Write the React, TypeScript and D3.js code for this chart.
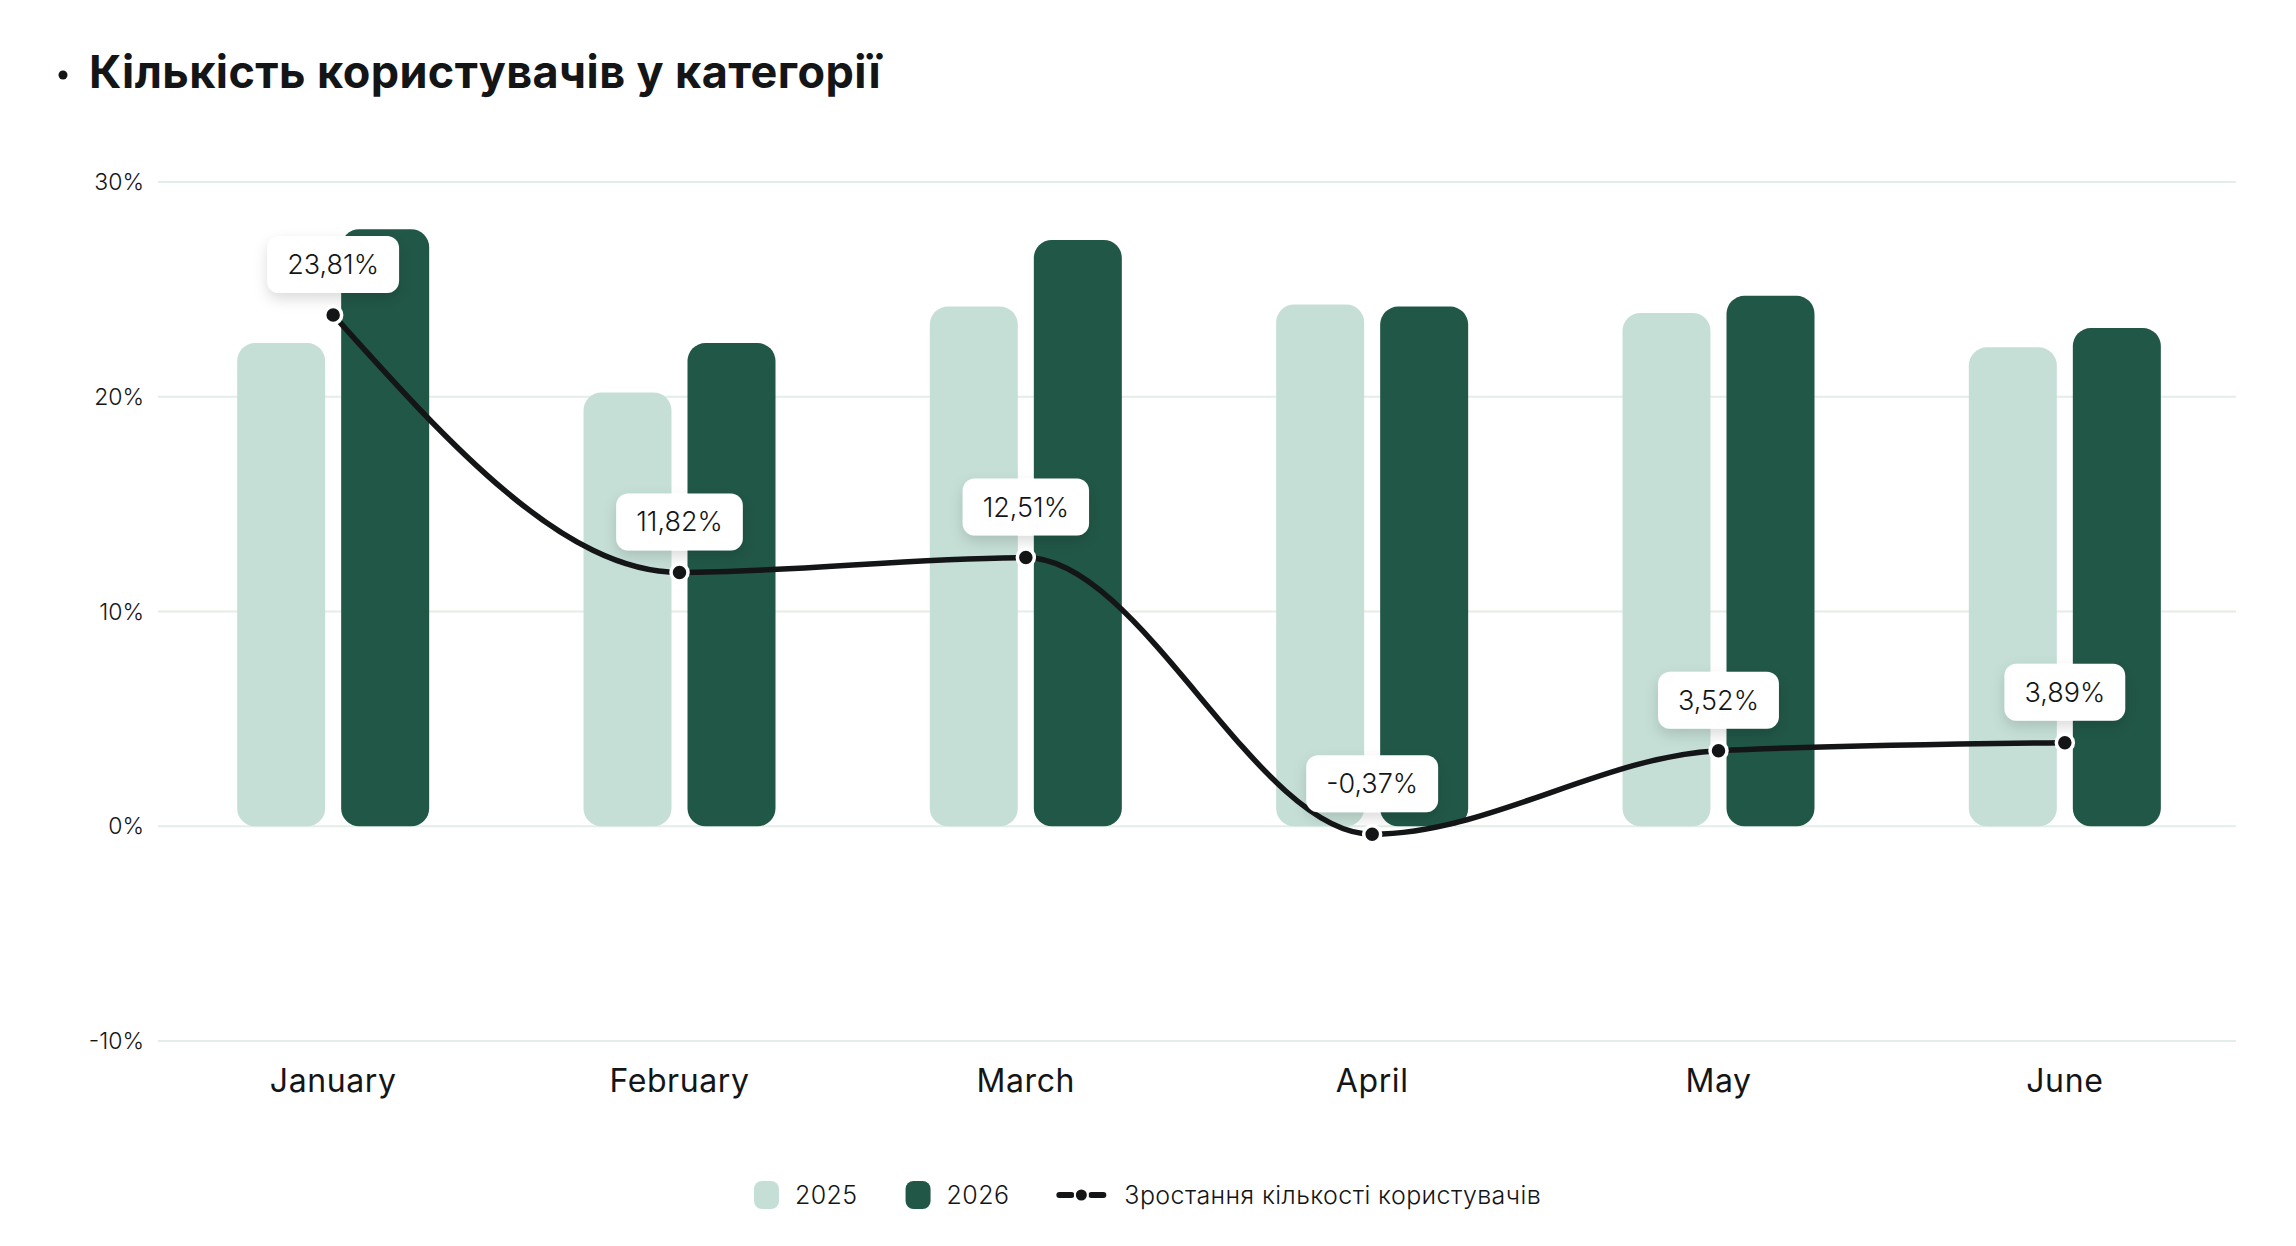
import React, { useEffect, useRef } from 'react';
import * as d3 from 'd3';

const months = ['January', 'February', 'March', 'April', 'May', 'June'];
const users2025 = [22.5, 20.2, 24.2, 24.3, 23.9, 22.3];
const users2026 = [27.8, 22.5, 27.3, 24.2, 24.7, 23.2];
const growth = [23.81, 11.82, 12.51, -0.37, 3.52, 3.89];
const yTicks = [-10, 0, 10, 20, 30];
const seriesNames = ['2025', '2026'];
const growthName = 'Зростання кількості користувачів';
const title = 'Кількість користувачів у категорії';

const W = 2296;
const H = 1246;
const FONT = 'Inter, "Noto Sans", sans-serif';
const LIGHT = '#c5dfd6';
const DARK = '#215747';
const INK = '#141517';

const App: React.FC = () => {
  const svgRef = useRef<SVGSVGElement>(null);

  useEffect(() => {
    document.body.style.margin = '0';
    if (!svgRef.current) return;
    const svg = d3.select(svgRef.current);
    svg.selectAll('*').remove();

    const defs = svg.append('defs');
    const f = defs.append('filter').attr('id', 'shadow')
      .attr('x', '-30%').attr('y', '-30%').attr('width', '160%').attr('height', '180%');
    f.append('feDropShadow').attr('dx', 0).attr('dy', 6).attr('stdDeviation', 7)
      .attr('flood-color', '#000').attr('flood-opacity', 0.14);

    const x = d3.scaleBand<string>().domain(months).range([160, 2238]).padding(0);
    const y = d3.scaleLinear().domain([-10, 30]).range([1041, 182]);
    const barW = 88;
    const offset = 52;

    // title
    svg.append('circle').attr('cx', 63).attr('cy', 75).attr('r', 4.5).attr('fill', INK);
    svg.append('text').attr('x', 89).attr('y', 88)
      .attr('font-family', FONT).attr('font-weight', 700).attr('font-size', 45)
      .attr('letter-spacing', 0.4)
      .attr('fill', INK).text(title);

    // grid
    const grid = svg.append('g');
    grid.selectAll('line').data(yTicks).enter().append('line')
      .attr('x1', 158).attr('x2', 2236)
      .attr('y1', d => y(d)).attr('y2', d => y(d))
      .attr('stroke', '#e4eee8').attr('stroke-width', 2);
    grid.selectAll('text').data(yTicks).enter().append('text')
      .attr('x', 144).attr('y', d => y(d)).attr('dy', '0.35em')
      .attr('text-anchor', 'end').attr('font-family', FONT).attr('font-weight', 300)
      .attr('font-size', 23).attr('fill', INK)
      .text(d => `${d}%`);

    // bars
    const bars = svg.append('g');
    [users2025, users2026].forEach((vals, si) => {
      bars.selectAll(`rect.s${si}`).data(vals).enter().append('rect')
        .attr('class', `s${si}`)
        .attr('x', (_, i) => x(months[i])! + x.bandwidth() / 2 + (si === 0 ? -offset : offset) - barW / 2)
        .attr('y', d => y(d))
        .attr('width', barW)
        .attr('height', d => y(0) - y(d))
        .attr('rx', 18)
        .attr('fill', si === 0 ? LIGHT : DARK);
    });

    // x labels
    svg.append('g').selectAll('text').data(months).enter().append('text')
      .attr('x', d => x(d)! + x.bandwidth() / 2).attr('y', 1092)
      .attr('text-anchor', 'middle').attr('font-family', FONT).attr('font-weight', 400)
      .attr('font-size', 32).attr('letter-spacing', 0.6).attr('fill', INK).text(d => d);

    // growth line
    const pts = growth.map((v, i) => [x(months[i])! + x.bandwidth() / 2, y(v)] as [number, number]);
    svg.append('path')
      .attr('d', d3.line().curve(d3.curveMonotoneX)(pts))
      .attr('fill', 'none').attr('stroke', INK).attr('stroke-width', 5.5);

    const fmt = (v: number) => v.toFixed(2).replace('.', ',') + '%';
    const labels = svg.append('g');
    pts.forEach(([px, py], i) => {
      const g = labels.append('g');
      const rect = g.append('rect').attr('fill', '#fff').attr('rx', 12).attr('filter', 'url(#shadow)');
      const t = g.append('text').attr('x', px).attr('y', py - 22 - 28.5).attr('dy', '0.35em')
        .attr('text-anchor', 'middle').attr('font-family', FONT).attr('font-weight', 300)
        .attr('font-size', 27).attr('fill', INK).text(fmt(growth[i]));
      const w = (t.node() as SVGTextElement).getComputedTextLength() + 40;
      rect.attr('x', px - w / 2).attr('y', py - 22 - 57).attr('width', w).attr('height', 57);
    });
    svg.append('g').selectAll('circle').data(pts).enter().append('circle')
      .attr('cx', d => d[0]).attr('cy', d => d[1]).attr('r', 8.5)
      .attr('fill', INK).attr('stroke', '#fff').attr('stroke-width', 3.5);

    // legend
    const leg = svg.append('g');
    const ly = 1195;
    let lx = 754;
    seriesNames.forEach((n, i) => {
      leg.append('rect').attr('x', lx).attr('y', ly - 14).attr('width', 25).attr('height', 28)
        .attr('rx', 8).attr('fill', i === 0 ? LIGHT : DARK);
      const t = leg.append('text').attr('x', lx + 41).attr('y', ly).attr('dy', '0.35em')
        .attr('font-family', FONT).attr('font-weight', 300).attr('font-size', 25)
        .attr('letter-spacing', 0.4).attr('fill', INK).text(n);
      lx += 41 + (t.node() as SVGTextElement).getComputedTextLength() + 48;
    });
    lx = Math.max(lx, 1057);
    leg.append('line').attr('x1', lx + 2).attr('x2', lx + 14).attr('y1', ly).attr('y2', ly)
      .attr('stroke', INK).attr('stroke-width', 6).attr('stroke-linecap', 'round');
    leg.append('line').attr('x1', lx + 34).attr('x2', lx + 46).attr('y1', ly).attr('y2', ly)
      .attr('stroke', INK).attr('stroke-width', 6).attr('stroke-linecap', 'round');
    leg.append('circle').attr('cx', lx + 24).attr('cy', ly).attr('r', 6.5).attr('fill', INK)
      .attr('stroke', '#fff').attr('stroke-width', 2);
    leg.append('text').attr('x', lx + 67).attr('y', ly).attr('dy', '0.35em')
      .attr('font-family', FONT).attr('font-weight', 300).attr('font-size', 25)
      .attr('letter-spacing', 0.4).attr('fill', INK).text(growthName);
  }, []);

  return (
    <svg
      ref={svgRef}
      width={W}
      height={H}
      style={{ position: 'absolute', left: 0, top: 0, display: 'block', background: '#fff' }}
    />
  );
};

export default App;
